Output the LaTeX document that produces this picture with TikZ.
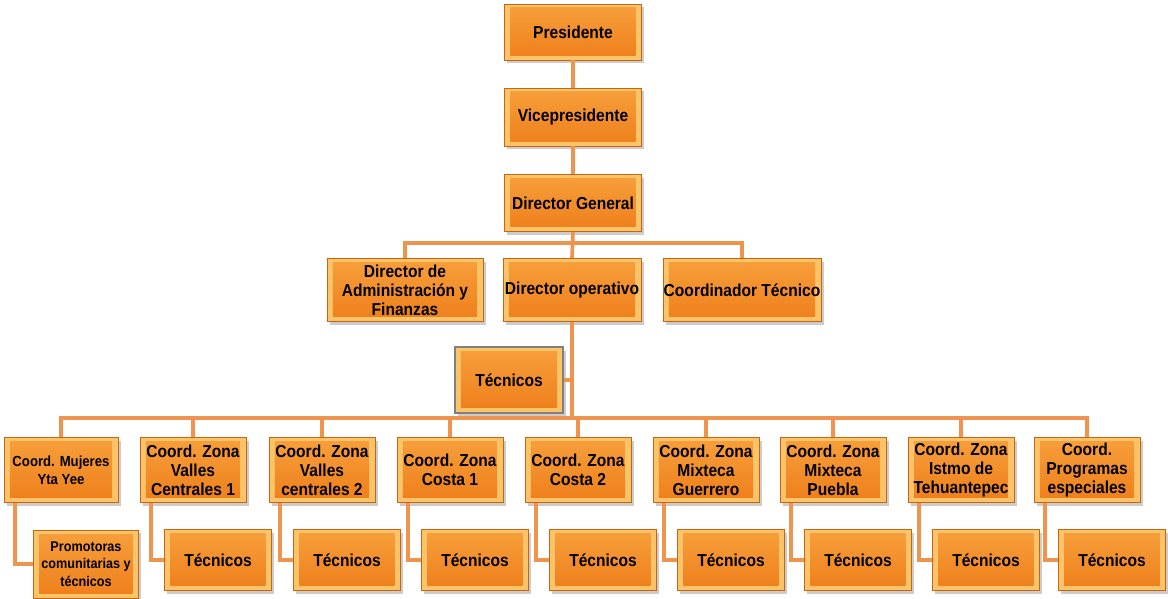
\documentclass[tikz,border=0pt]{standalone}
\usepackage{fontspec}
\setmainfont{Liberation Sans}[FakeStretch=0.9]
\usetikzlibrary{shadows}
\definecolor{boxmain}{RGB}{238,126,26}
\definecolor{boxtop}{RGB}{247,160,60}
\definecolor{boxedge}{RGB}{251,196,104}
\definecolor{boxline}{RGB}{200,100,20}
\definecolor{linkcol}{RGB}{238,148,78}

\begin{document}
\begin{tikzpicture}[x = 0.025cm, y = -0.025cm,
		box/.style = {draw = boxline, line width = 0.5pt, fill = boxedge, inner sep = 0pt, align = center,
			font = \fontsize{12.3}{13.5}\selectfont\bfseries, minimum width = 2.65cm, minimum height = 1.6cm,
			path picture = {\shade[top color = boxtop, bottom color = boxmain]
				([shift = {(0.15cm, 0.12cm)}]path picture bounding box.south west) rectangle
				([shift = {(-0.15cm, -0.1cm)}]path picture bounding box.north east);},
			drop shadow = {opacity = 0.4, shadow xshift = 0.07cm, shadow yshift = -0.08cm}},
		smallbox/.style = {box, font = \fontsize{10.4}{12.5}\selectfont\bfseries},
		link/.style = {draw = linkcol, line width = 2.6pt}]
				\useasboundingbox (0, 0) rectangle (1168, 598);
				% top
				\node[box, minimum width = 3.43cm, minimum height = 1.4cm] (pres) at (573, 32) {Presidente};
				\node[box, minimum width = 3.43cm, minimum height = 1.45cm] (vice) at (573, 117) {Vicepresidente};
				\node[box, minimum width = 3.43cm, minimum height = 1.43cm] (dirgen) at (573, 203) {Director General};
				% directores
				\node[box, minimum width = 3.9cm, minimum height = 1.58cm] (diradm) at (405, 290) {Director de\\Administración y\\Finanzas};
				\node[box, minimum width = 3.45cm, minimum height = 1.58cm] (dirop) at (572, 290) {Director operativo};
				\node[box, minimum width = 3.95cm, minimum height = 1.58cm] (coordtec) at (742, 290) {Coordinador Técnico};
				\node[box, draw = gray, line width = 1.4pt, minimum width = 2.7cm, minimum height = 1.63cm] (tecop) at (509, 380) {Técnicos};
				\coordinate (busA) at (573, 243);
				\coordinate (busB) at (572, 418);
				% zonas
				\node[smallbox, minimum width = 2.85cm, minimum height = 1.63cm] (z1) at (61, 470) {Coord. Mujeres\\Yta Yee};
				\node[smallbox, font = \fontsize{10}{12.4}\selectfont\bfseries, minimum width = 2.63cm, minimum height = 1.7cm] (t1) at (86, 564) {Promotoras\\comunitarias y\\técnicos};
				\foreach \i/\x/\txt in {2/193/{Coord. Zona\\Valles\\Centrales 1}, 3/322/{Coord. Zona\\Valles\\centrales 2},
						4/450/{Coord. Zona\\Costa 1}, 5/578/{Coord. Zona\\Costa 2}, 6/706/{Coord. Zona\\Mixteca\\Guerrero},
						7/833/{Coord. Zona\\Mixteca\\Puebla}, 8/961/{Coord. Zona\\Istmo de\\Tehuantepec},
						9/1087/{Coord.\\Programas\\especiales}} {
					\node[box, minimum height = 1.63cm] (z\i) at (\x, 470) {\txt};
					\node[box, minimum width = 2.68cm, minimum height = 1.53cm] (t\i) at (\x + 25, 560) {Técnicos};
				}
				% lineas
				\draw[link] (pres.south) -- (vice.north);
				\draw[link] (vice.south) -- (dirgen.north);
				\draw[link] (dirgen.south) -- (dirop.north);
				\draw[link] (diradm.north) |- (busA) -| (coordtec.north);
				\draw[link] (dirop.south) -- (busB);
				\draw[link] (tecop.east) -- (tecop.east -| busB);
				\foreach \i in {1,...,9} {
					\draw[link] (z\i.north) |- (busB);
					\draw[link] ([xshift = 0.28cm]z\i.south west) |- (t\i.west);
				}
			\end{tikzpicture}
\end{document}
